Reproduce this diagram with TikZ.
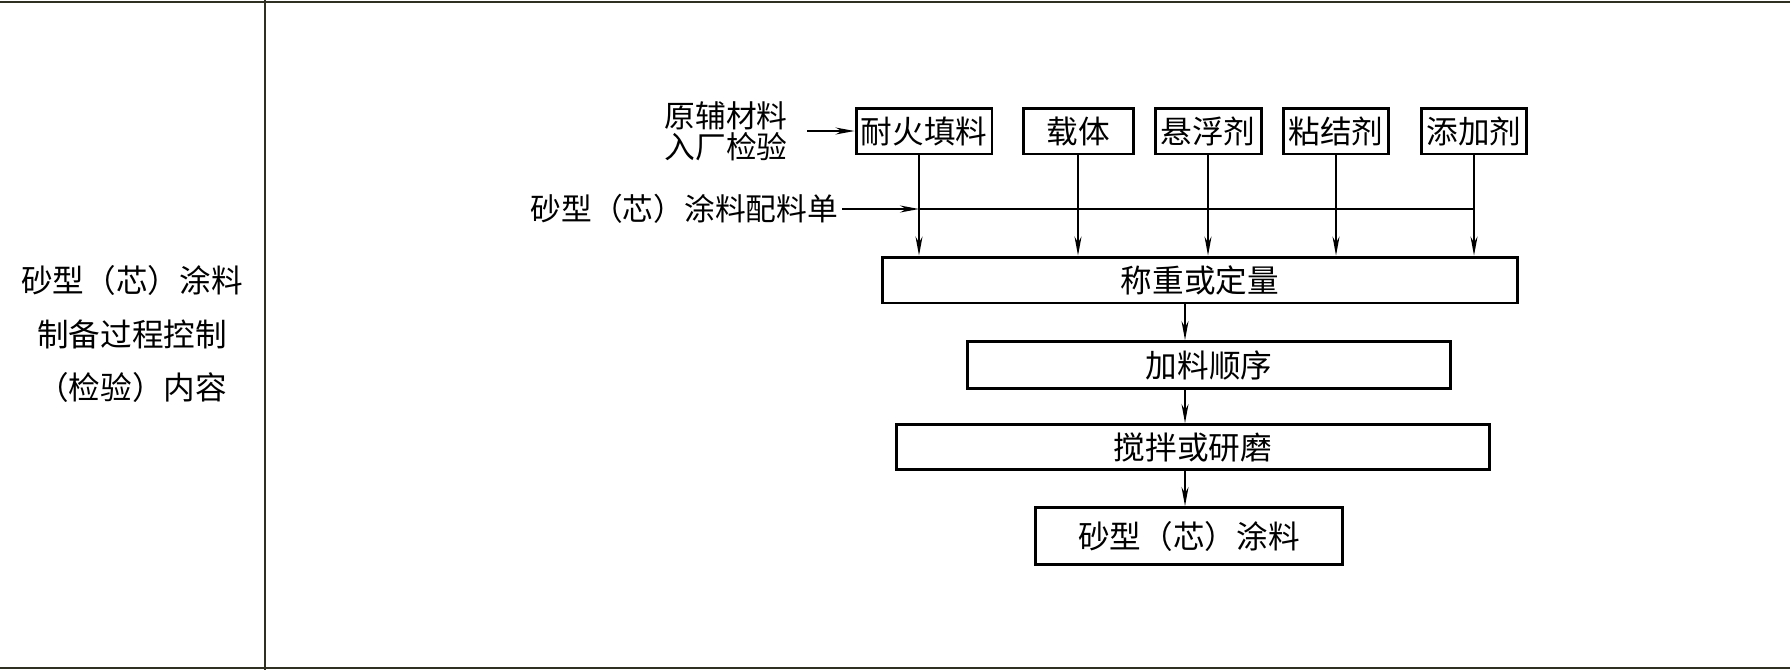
\documentclass[tikz,border=0pt]{standalone}
\usepackage{fontspec}
\setmainfont{Noto Sans CJK SC}
\usepackage{tikz}
\usetikzlibrary{positioning, arrows.meta}
\definecolor{ruleGray}{RGB}{48,48,34}

\begin{document}
\begin{tikzpicture}[
  x=0.02cm, y=-0.02cm,
  box/.style={draw, line width=1.7pt, font=\fontsize{18}{20}\selectfont,
    inner sep=0pt, minimum height=0.92cm},
  lbl/.style={font=\fontsize{17.5}{17.6}\selectfont, align=center, inner sep=0pt},
  arr/.style={line width=0.9pt, -{Stealth[length=3.8mm, width=1.4mm]}},
  link/.style={line width=0.9pt},
]
  \useasboundingbox (0,0) rectangle (1790,670);
  \draw[ruleGray, line width=1.7pt] (0,2) -- (1790,2);
  \draw[ruleGray, line width=1.1pt] (0,668) -- (1790,668);
  \draw[ruleGray, line width=1.1pt] (265,0) -- (265,670);

  \node[font=\fontsize{18}{30.6}\selectfont, align=center] (rowtitle) at (132,334)
    {砂型（芯）涂料\\制备过程控制\\（检验）内容};

  \node[box, minimum width=2.72cm] (fill) at (924,131) {耐火填料};
  \node[box, minimum width=2.2cm] (carrier) at (1078,131) {载体};
  \node[box, minimum width=2.12cm] (susp) at (1208,131) {悬浮剂};
  \node[box, minimum width=2.1cm] (binder) at (1336,131) {粘结剂};
  \node[box, minimum width=2.1cm] (additive) at (1474,131) {添加剂};

  \node[lbl, anchor=east, inner xsep=0.38cm] (inspect) at (807,131) {原辅材料\\入厂检验};
  \node[lbl, anchor=east, inner xsep=2pt] (recipe) at (842,209) {砂型（芯）涂料配料单};

  \node[box, minimum width=12.7cm] (weigh) at (1200,280) {称重或定量};
  \node[box, minimum width=9.68cm, minimum height=0.94cm] (order) at (1209,365) {加料顺序};
  \node[box, minimum width=11.88cm, minimum height=0.9cm] (mix) at (1193,447) {搅拌或研磨};
  \node[box, minimum width=6.14cm, minimum height=1.14cm] (coat) at (1189,536) {砂型（芯）涂料};

  \coordinate (tap) at (919,209);
  \coordinate (spine) at (1185,0);

  \draw[arr] (inspect.east) -- (fill.west);
  \draw[arr] (recipe.east) -- (tap);
  \draw[link] (tap) -- (additive.south |- recipe.east);
  \draw[arr] (tap |- fill.south) -- (tap |- weigh.north);
  \foreach \src in {carrier, susp, binder, additive}
    \draw[arr] (\src.south) -- (\src.south |- weigh.north);

  \draw[arr] (weigh.south -| spine) -- (order.north -| spine);
  \draw[arr] (order.south -| spine) -- (mix.north -| spine);
  \draw[arr] (mix.south -| spine) -- (coat.north -| spine);
\end{tikzpicture}
\end{document}
